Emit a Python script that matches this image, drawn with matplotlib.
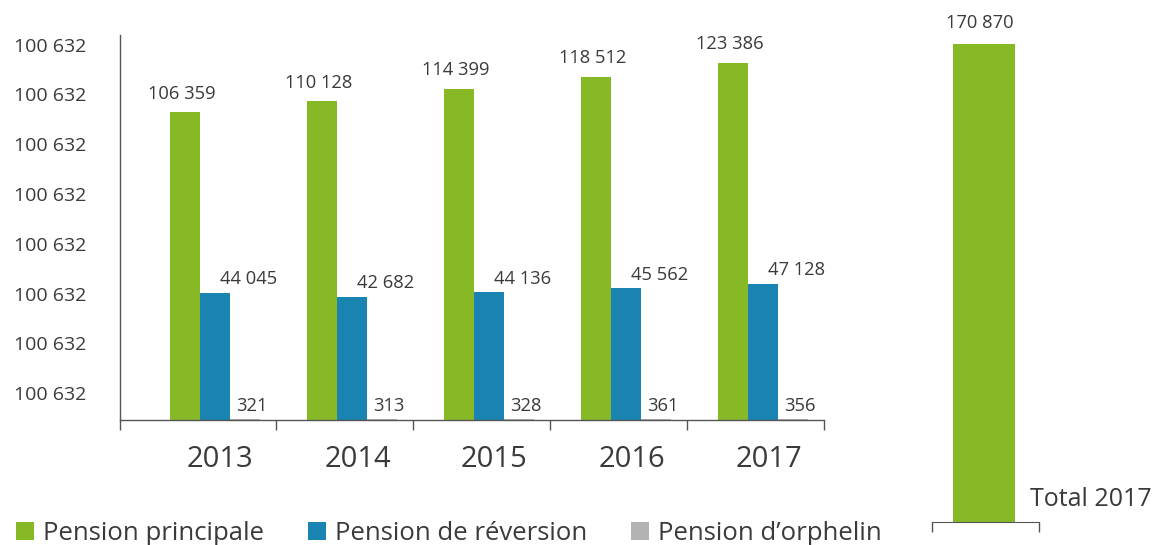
import numpy as np
import matplotlib
matplotlib.use("Agg")
import matplotlib.pyplot as plt
from matplotlib.patches import Patch

plt.rcParams["font.family"] = ["Open Sans", "DejaVu Sans"]

YEARS       = ["2013", "2014", "2015", "2016", "2017"]
PRINCIPALE  = [106359, 110128, 114399, 118512, 123386]
REVERSION   = [44045, 42682, 44136, 45562, 47128]
ORPHELIN    = [321, 313, 328, 361, 356]
TOTAL_LABEL = "Total 2017"
TOTAL_VALUE = 170870
YTICK_LABEL = "100 632"   # the source repeats the same label on every tick

GREEN = "#87B927"
BLUE  = "#1984B1"
GREY  = "#B3B3B3"
TEXT  = "#3a3a3a"
LINE  = "#555555"


def fmt(v):
    return f"{v:,}".replace(",", " ")


W, H = 1156, 545
fig = plt.figure(figsize=(W / 100, H / 100), dpi=100)

# main grouped chart
ax = fig.add_axes([120 / W, (H - 420) / H, 704 / W, 385 / H])
x = np.arange(len(YEARS))
bw = 0.22
series = [(PRINCIPALE, GREEN, -bw, (-2, 7)),
          (REVERSION,  BLUE,   0.0, (24, 3)),
          (ORPHELIN,   GREY,   bw,  (5, 3))]
for vals, col, off, (dx, dy) in series:
    ax.bar(x + off, vals, width=bw, color=col, linewidth=0)
    for xi, v in zip(x + off, vals):
        ax.annotate(fmt(v), (xi, v), xytext=(dx, dy), textcoords="offset points",
                    ha="center", va="bottom", fontsize=13.2, color=TEXT)

ax.set_xlim(-0.693, 4.445)
ax.set_ylim(0, 133060)
ax.set_xticks([-0.693, 0.445, 1.445, 2.445, 3.445, 4.445])
ax.set_xticklabels([])
ax.tick_params(axis="x", which="major", direction="out", length=7, width=1, color=LINE)
ax.set_xticks(x + 0.04, minor=True)
ax.set_xticklabels(YEARS, minor=True, fontsize=21, color=TEXT)
ax.tick_params(axis="x", which="minor", length=0, pad=18)

yt = 9300 + 17200 * np.arange(8)
ax.set_yticks(yt)
ax.set_yticklabels([YTICK_LABEL] * len(yt), fontsize=14, color=TEXT)
ax.tick_params(axis="y", length=0, pad=24)
ax.spines[["top", "right"]].set_visible(False)
for s in ["left", "bottom"]:
    ax.spines[s].set_color(LINE)
    ax.spines[s].set_linewidth(1)

# total bar on its own axes
ax2 = fig.add_axes([932 / W, (H - 522) / H, 107 / W, 502 / H])
ax2.bar([0.488], [TOTAL_VALUE], width=0.58, color=GREEN, linewidth=0)
ax2.annotate(fmt(TOTAL_VALUE), (0.45, TOTAL_VALUE), xytext=(0, 9),
             textcoords="offset points", ha="center", va="bottom",
             fontsize=13.2, color=TEXT)
ax2.set_xlim(0, 1)
ax2.set_ylim(0, TOTAL_VALUE * 502 / 478)
ax2.set_xticks([0, 1])
ax2.set_xticklabels([])
ax2.set_yticks([])
ax2.tick_params(axis="x", direction="out", length=7, width=1, color=LINE)
ax2.spines[["top", "right", "left"]].set_visible(False)
ax2.spines["bottom"].set_color(LINE)
ax2.text(0.92, 0.045, TOTAL_LABEL, transform=ax2.transAxes, ha="left",
         va="center", fontsize=18, color=TEXT, clip_on=False)

handles = [Patch(facecolor=GREEN, label="Pension principale"),
           Patch(facecolor=BLUE, label="Pension de réversion"),
           Patch(facecolor=GREY, label="Pension d\u2019orphelin")]
fig.legend(handles=handles, loc="lower left", bbox_to_anchor=(-0.006, -0.045),
           ncol=3, frameon=False, fontsize=18.5, handlelength=0.7,
           handleheight=0.7, handletextpad=0.35, columnspacing=1.7,
           labelcolor=TEXT)

fig.savefig("out.png", dpi=100)
